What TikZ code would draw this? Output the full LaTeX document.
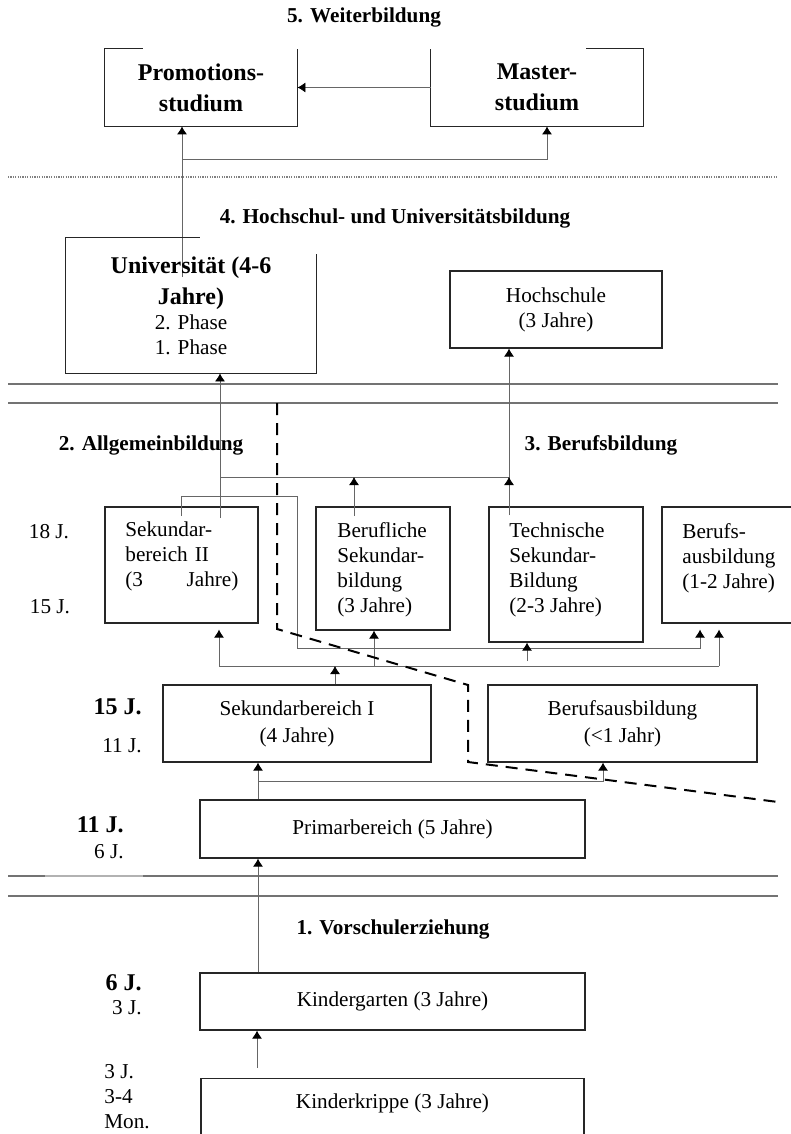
\documentclass[tikz,border=0pt]{standalone}
\usepackage{fontspec}
\setmainfont{Liberation Serif}
\usetikzlibrary{arrows.meta}

\begin{document}
\begin{tikzpicture}[x=0.5pt, y=-0.5pt]
    \tikzstyle{box} = [draw=black!85, line width=0.6pt, inner sep=0pt]
    \tikzstyle{txt} = [inner sep=0pt, font=\fontsize{10.6}{12.5}\selectfont]
    \tikzstyle{head} = [inner sep=0pt, font=\fontsize{10.6}{12.5}\selectfont\bfseries]
    \tikzstyle{big} = [inner sep=0pt, font=\fontsize{12}{15.5}\selectfont\bfseries]
    \tikzstyle{conn} = [draw=black!60, line width=0.4pt]
    \tikzstyle{arr} = [conn, -{Latex[length=4pt, width=5pt, color=black]}]
    \tikzstyle{sep} = [draw=black!55, line width=0.8pt]
    \tikzstyle{divider} = [draw=black, line width=1pt, dash pattern=on 6pt off 4pt]

    \useasboundingbox (0,0) rectangle (791,1134);

    % 5. Weiterbildung
    \node[head] (h5) at (364,17) {5. Weiterbildung};
    \node[big, minimum width=96pt, minimum height=38.5pt, align=center] (prom) at (201,87.5) {Promotions-\\studium};
    \draw[box] ([xshift=19pt]prom.north west) -- (prom.north west) -- (prom.south west) -- (prom.south east) -- (prom.north east);
    \node[big, minimum width=106pt, minimum height=38.5pt, align=center] (master) at (537,87.5) {Master-\\studium};
    \draw[box] ([xshift=-28.5pt]master.north east) -- (master.north east) -- (master.south east) -- (master.south west) -- (master.north west);

    \draw[arr] (master.west) -- (prom.east);
    \coordinate (uniIn) at (182,277);
    \draw[arr] (uniIn) -- (uniIn |- prom.south);
    \draw[arr] (182,159) -| ([xshift=5pt]master.south);

    \draw[black!50, line width=0.6pt, dash pattern=on 0.6pt off 0.6pt] (8,177) -- (778,177);

    % 4. Hochschul- und Universitaetsbildung
    \node[head] (h4) at (395,218) {4. Hochschul- und Universitätsbildung};
    \node[txt, minimum width=125pt, minimum height=67.5pt, align=center] (uni) at (191,305.5)
        {{\fontsize{12}{15.5}\selectfont\bfseries Universität (4-6}\\[3pt]{\fontsize{12}{15.5}\selectfont\bfseries Jahre)}\\2. Phase\\1. Phase};
    \draw[box] ([xshift=67pt]uni.north west) -- (uni.north west) -- (uni.south west) -- (uni.south east) -- ([yshift=-8pt]uni.north east);
    \node[txt, box, minimum width=106pt, minimum height=38.5pt, align=center] (hoch) at (556,309.5) {Hochschule\\(3 Jahre)};

    \draw[sep] (8,384) -- (778,384);
    \draw[sep] (8,403) -- (778,403);

    % 2. / 3.
    \node[head] (h2) at (151,445) {2. Allgemeinbildung};
    \node[head] (h3) at (601,445) {3. Berufsbildung};

    \node[box, minimum width=76.5pt, minimum height=58pt] (sekII) at (181.5,565) {};
    \node[box, minimum width=67pt, minimum height=61.5pt] (beruf) at (383,568.5) {};
    \node[box, minimum width=77pt, minimum height=67.5pt] (tech) at (566,574.5) {};
    \node[box, minimum width=80pt, minimum height=58pt] (baus) at (742,565) {};
    \node[txt, anchor=west, text width=56.5pt, align=left] (sekIIt) at (125,556) {Sekundar-\\bereich II\\(3\hfill Jahre)};
    \node[txt, anchor=west, align=left] (beruft) at (337,569.5) {Berufliche\\Sekundar-\\bildung\\(3 Jahre)};
    \node[txt, anchor=west, align=left] (techt) at (509,569.5) {Technische\\Sekundar-\\Bildung\\(2-3 Jahre)};
    \node[txt, anchor=west, align=left] (baust) at (682,558) {Berufs-\\ausbildung\\(1-2 Jahre)};

    \node[txt] (a18) at (49,532) {18 J.};
    \node[txt] (a15) at (50,607) {15 J.};

    \coordinate (sIIin) at (220,518);
    \coordinate (tin) at (509,515);
    \draw[arr] (sIIin) -- (sIIin |- uni.south);
    \draw[arr] (tin) -- (tin |- hoch.south);
    \draw[conn] (220,477) -- (509,477);
    \draw[arr] (tin) -- (509,477);
    \draw[arr] (354,516) -- (354,477);
    \draw[arr, shorten >=3pt] (181,516) |- (297,496) |- (700,648) -- (700,0 |- baus.south);

    \draw[conn] (219,666) -- (719,666);
    \draw[arr, shorten >=3pt] (219,666) -- (219,0 |- sekII.south);
    \draw[arr] (374,666) -- (374,0 |- beruf.south);
    \draw[arr, shorten >=3pt] (719,666) -- (719,0 |- baus.south);
    \draw[arr] (527,661) -- (527,0 |- tech.south);

    \node[txt, box, minimum width=134pt, minimum height=38.5pt, align=center] (sekI) at (297,723.5) {Sekundarbereich I\\[1pt](4 Jahre)};
    \node[txt, box, minimum width=134.5pt, minimum height=38.5pt, align=center] (bk) at (622.5,723.5) {Berufsausbildung\\[1pt](<1 Jahr)};
    \draw[arr] (335,0 |- sekI.north) -- (335,666);

    \node[big, anchor=east] (b15) at (142,707) {15 J.};
    \node[txt, anchor=east] (a11) at (142,746) {11 J.};

    \draw[divider] (277,403) -- (277,629) -- (468,685) -- (468,762) -- (778,802);

    % Primarbereich
    \node[txt, box, minimum width=192.5pt, minimum height=29pt] (primar) at (392.5,829) {Primarbereich (5 Jahre)};
    \draw[arr] (258,0 |- primar.north) -- (258,0 |- sekI.south);
    \draw[arr] (258,781) -| (603,0 |- bk.south);
    \node[big, anchor=east] (b11) at (124,825) {11 J.};
    \node[txt, anchor=east] (a6) at (124,852) {6 J.};

    \draw[sep] (8,876) -- (45,876);
    \draw[sep, draw=black!30] (45,876) -- (143,876);
    \draw[sep] (143,876) -- (778,876);
    \draw[sep] (8,896) -- (778,896);

    % 1. Vorschulerziehung
    \node[head] (h1) at (393,929) {1. Vorschulerziehung};
    \node[txt, box, minimum width=192.5pt, minimum height=28.5pt] (kg) at (392.5,1001.5) {Kindergarten (3 Jahre)};
    \draw[arr] (258,0 |- kg.north) -- (258,0 |- primar.south);
    \node[big, anchor=east] (b6) at (142,983) {6 J.};
    \node[txt, anchor=east] (a3) at (142,1008) {3 J.};

    \node[box, minimum width=191.5pt, minimum height=40pt, anchor=north] (kk) at (392.5,1078) {};
    \node[txt] (kkt) at (392.5,1103) {Kinderkrippe (3 Jahre)};
    \draw[arr] (257,1068) -- (257,0 |- kg.south);
    \node[txt, anchor=west] (a3b) at (104,1072) {3 J.};
    \node[txt, anchor=west] (a34) at (104,1097) {3-4};
    \node[txt, anchor=west] (amon) at (104,1122) {Mon.};
\end{tikzpicture}
\end{document}
